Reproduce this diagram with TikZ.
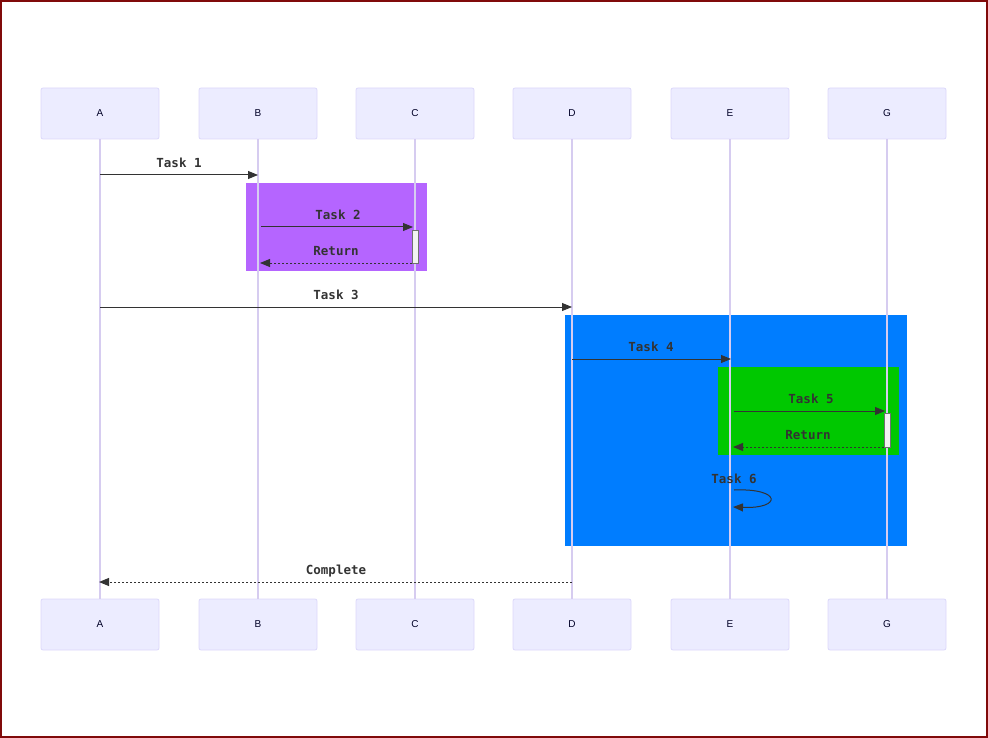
\documentclass[tikz,border=0pt]{standalone}
\usepackage{fontspec}
\setmainfont{Liberation Sans}
\setmonofont{DejaVu Sans Mono}
\usetikzlibrary{arrows.meta}
\definecolor{frame}{RGB}{128,10,10}
\definecolor{actorfill}{RGB}{236,236,255}
\definecolor{actorline}{RGB}{220,216,250}
\definecolor{lifeline}{RGB}{214,204,240}
\definecolor{ink}{RGB}{51,51,51}
\definecolor{purplebg}{RGB}{181,101,255}
\definecolor{bluebg}{RGB}{0,125,255}
\definecolor{greenbg}{RGB}{0,200,0}
\tikzset{
  actor/.style={draw=actorline, fill=actorfill, rounded corners=2pt, line width=0.8pt,
    minimum width=118pt, minimum height=51pt, inner sep=0pt,
    font=\fontsize{10}{11}\selectfont, text=black!85!blue},
  life/.style={draw=lifeline, line width=1.3pt},
  msg/.style={draw=ink, line width=1pt, -{Triangle[length=10pt,width=8pt]}},
  reply/.style={msg, dash pattern=on 2pt off 2pt},
  lbl/.style={font=\ttfamily\bfseries\fontsize{12.5}{14}\selectfont, text=ink, inner sep=0pt},
  act/.style={draw=ink!70, fill=white!95!black, line width=0.6pt, minimum width=6pt, inner sep=0pt},
}
\begin{document}
\begin{tikzpicture}[x=1pt, y=-1pt]
\useasboundingbox (0,0) rectangle (988,738);
\draw[frame, line width=2pt] (1,1) rectangle (987,737);

% loop / region backgrounds
\fill[purplebg] (246,183) rectangle (427,271);
\fill[bluebg] (565,315) rectangle (907,546);
\fill[greenbg] (718,367) rectangle (899,455);

% participants
\foreach \n/\t/\x in {a/A/100, b/B/258, c/C/415, d/D/572, e/E/730, g/G/887} {
  \node[actor] (\n) at (\x,113.5) {\t};
  \node[actor] (\n2) at (\x,624.5) {\t};
  \draw[life] (\n.south) -- (\n2.north);
}

% activation bars
\node[act, minimum height=33pt] (actc) at (415,246.5) {};
\node[act, minimum height=34pt] (actg) at (887,430) {};

% message anchor points on the lifelines
\coordinate (m1a) at (100,175); \coordinate (m1b) at (258,175);
\coordinate (m2a) at (261,227); \coordinate (m2b) at (413,227);
\coordinate (m3a) at (412,263); \coordinate (m3b) at (260,263);
\coordinate (m4a) at (100,307); \coordinate (m4b) at (572,307);
\coordinate (m5a) at (572,359); \coordinate (m5b) at (731,359);
\coordinate (m6a) at (734,411); \coordinate (m6b) at (885,411);
\coordinate (m7a) at (884,447); \coordinate (m7b) at (733,447);
\coordinate (m8a) at (734,490); \coordinate (m8b) at (733,507);
\coordinate (m9a) at (572,582); \coordinate (m9b) at (99,582);

\draw[msg] (m1a) -- (m1b);
\draw[msg] (m2a) -- (m2b);
\draw[reply] (m3a) -- (m3b);
\draw[msg] (m4a) -- (m4b);
\draw[msg] (m5a) -- (m5b);
\draw[msg] (m6a) -- (m6b);
\draw[reply] (m7a) -- (m7b);
\draw[msg] (m8a) .. controls (782,488) and (782,509) .. (m8b);
\draw[reply] (m9a) -- (m9b);

% message labels
\node[lbl] (l1) at (179,163) {Task 1};
\node[lbl] (l2) at (338,215) {Task 2};
\node[lbl] (l3) at (336,251) {Return};
\node[lbl] (l4) at (336,295) {Task 3};
\node[lbl] (l5) at (651,347) {Task 4};
\node[lbl] (l6) at (811,399) {Task 5};
\node[lbl] (l7) at (808,435) {Return};
\node[lbl] (l8) at (734,479) {Task 6};
\node[lbl] (l9) at (336,571) {Complete};
\end{tikzpicture}
\end{document}
